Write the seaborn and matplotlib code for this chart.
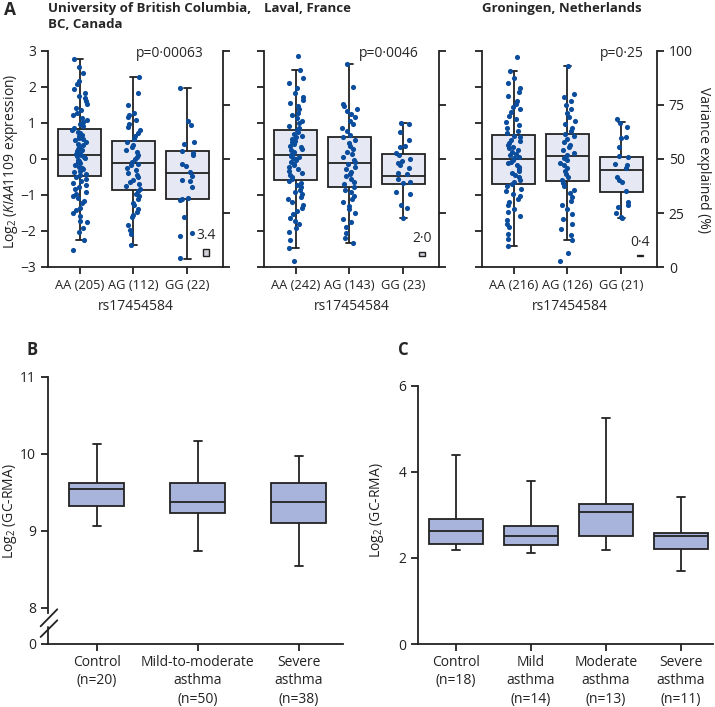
import numpy as np
import pandas as pd
import matplotlib
matplotlib.use("Agg")
import matplotlib.pyplot as plt
import seaborn as sns

np.random.seed(7)  # only for seaborn's strip jitter

# ---------------- Panel A: log2 KIAA1109 expression by rs17454584 ----------------
genotypes = ["AA", "AG", "GG"]
cohorts = ["University of British Columbia,\nBC, Canada", "Laval, France", "Groningen, Netherlands"]
n_ubc = [205, 112, 22]
n_laval = [242, 143, 23]
n_gron = [216, 126, 21]
p_values = ["p=0·00063", "p=0·0046", "p=0·25"]
var_explained = [3.4, 2.0, 0.4]
var_labels = ["3.4", "2·0", "0·4"]

# box stats: whisker low, Q1, median, Q3, whisker high
ubc_aa_box = [-2.24, -0.48, 0.12, 0.83, 2.79]
ubc_ag_box = [-2.40, -0.85, -0.11, 0.50, 2.29]
ubc_gg_box = [-2.77, -1.11, -0.38, 0.22, 1.96]
laval_aa_box = [-2.46, -0.57, 0.10, 0.81, 2.47]
laval_ag_box = [-2.33, -0.79, -0.11, 0.62, 2.63]
laval_gg_box = [-1.63, -0.69, -0.47, 0.13, 0.99]
gron_aa_box = [-2.43, -0.70, -0.01, 0.67, 2.44]
gron_ag_box = [-2.24, -0.62, 0.08, 0.70, 2.57]
gron_gg_box = [-1.65, -0.91, -0.31, 0.065, 1.02]

# individual samples (estimated from the strip of dots)
ubc_aa = [-2.52, -2.24, -2.02, -1.93, -1.76, -1.71, -1.58, -1.49, -1.41, -1.36, -1.22, -1.17,
          -1.08, -1.03, -0.96, -0.91, -0.84, -0.77, -0.71, -0.66, -0.61, -0.55, -0.50,
          -0.45, -0.41, -0.37, -0.33, -0.28, -0.25, -0.21, -0.17, -0.12, -0.09, -0.05, -0.02,
          0.03, 0.06, 0.09, 0.11, 0.14, 0.17, 0.22, 0.26, 0.29, 0.34, 0.38, 0.41, 0.47, 0.52,
          0.55, 0.59, 0.63, 0.67, 0.71, 0.76, 0.81, 0.86, 0.92, 0.98, 1.04, 1.09, 1.15, 1.22,
          1.27, 1.36, 1.43, 1.52, 1.61, 1.69, 1.74, 1.83, 1.95, 2.07, 2.18, 2.38, 2.55, 2.79]
ubc_ag = [-2.40, -2.08, -1.96, -1.83, -1.62, -1.55, -1.47, -1.38, -1.29, -1.21, -1.12, -1.04,
          -0.97, -0.90, -0.82, -0.76, -0.69, -0.63, -0.57, -0.50, -0.44, -0.38, -0.31, -0.25,
          -0.18, -0.13, -0.08, 0.00, 0.06, 0.12, 0.19, 0.26, 0.33, 0.40, 0.47, 0.55, 0.63,
          0.71, 0.80, 0.88, 0.97, 1.07, 1.18, 1.21, 1.29, 1.50, 1.84, 2.29]
ubc_gg = [1.97, 1.05, 0.95, 0.47, 0.43, 0.23, 0.16, 0.12, -0.13, -0.20, -0.35, -0.47, -0.57,
          -0.60, -0.78, -1.07, -1.10, -1.13, -1.62, -2.05, -2.13, -2.75]
laval_aa = [-2.84, -2.46, -2.25, -2.02, -1.93, -1.81, -1.72, -1.64, -1.53, -1.45, -1.37, -1.29,
            -1.20, -1.12, -1.05, -0.98, -0.91, -0.85, -0.79, -0.72, -0.66, -0.60, -0.55, -0.49,
            -0.44, -0.38, -0.33, -0.27, -0.22, -0.17, -0.13, -0.08, -0.04, 0.00, 0.03, 0.06,
            0.09, 0.12, 0.16, 0.20, 0.24, 0.28, 0.33, 0.37, 0.42, 0.46, 0.51, 0.55, 0.60, 0.65,
            0.70, 0.75, 0.80, 0.86, 0.92, 0.99, 1.06, 1.14, 1.22, 1.29, 1.38, 1.47, 1.56, 1.63,
            1.72, 1.84, 1.97, 2.10, 2.26, 2.47, 2.87]
laval_ag = [-2.33, -2.20, -2.05, -1.90, -1.74, -1.66, -1.50, -1.40, -1.31, -1.20, -1.10, -1.02,
            -0.93, -0.86, -0.78, -0.70, -0.63, -0.56, -0.48, -0.41, -0.35, -0.28, -0.21, -0.15,
            -0.09, -0.02, 0.05, 0.13, 0.20, 0.28, 0.36, 0.45, 0.53, 0.60, 0.68, 0.77, 0.86,
            0.96, 1.05, 1.16, 1.26, 1.33, 1.40, 1.47, 1.52, 2.00, 2.63]
laval_gg = [1.00, 0.96, 0.75, 0.52, 0.37, 0.33, 0.17, 0.10, 0.00, -0.05, -0.10, -0.17, -0.25,
            -0.38, -0.42, -0.55, -0.64, -0.68, -0.93, -0.98, -1.27, -1.35, -1.63]
gron_aa = [-2.43, -2.22, -2.08, -1.90, -1.81, -1.70, -1.58, -1.47, -1.38, -1.29, -1.20, -1.11,
           -1.04, -0.96, -0.88, -0.82, -0.76, -0.69, -0.63, -0.57, -0.51, -0.45, -0.39, -0.33,
           -0.27, -0.22, -0.17, -0.12, -0.07, -0.03, 0.02, 0.06, 0.11, 0.15, 0.20, 0.25, 0.30,
           0.34, 0.39, 0.44, 0.49, 0.54, 0.60, 0.65, 0.71, 0.78, 0.86, 0.95, 1.03, 1.11, 1.20,
           1.30, 1.38, 1.45, 1.53, 1.62, 1.74, 1.86, 1.98, 2.10, 2.25, 2.44, 2.82]
gron_ag = [-2.83, -2.60, -2.24, -2.12, -1.95, -1.80, -1.67, -1.52, -1.40, -1.29, -1.18, -1.06,
           -0.95, -0.85, -0.75, -0.66, -0.58, -0.50, -0.42, -0.34, -0.26, -0.18, -0.10, -0.03,
           0.04, 0.11, 0.18, 0.25, 0.33, 0.40, 0.48, 0.55, 0.63, 0.70, 0.78, 0.87, 0.97, 1.06,
           1.16, 1.27, 1.38, 1.50, 1.62, 1.72, 1.80, 2.57]
gron_gg = [1.12, 1.00, 0.90, 0.60, 0.57, 0.34, 0.08, 0.05, -0.15, -0.18, -0.25, -0.50, -0.58,
           -0.65, -0.90, -1.20, -1.27, -1.32, -1.50, -1.60, -1.65]

# ---------------- Panel B / C: log2 (GC-RMA), box stats only ----------------
b_groups = ["Control\n(n=20)", "Mild-to-moderate\nasthma\n(n=50)", "Severe\nasthma\n(n=38)"]
b_control = [9.065, 9.325, 9.54, 9.62, 10.13]
b_mild_moderate = [8.745, 9.23, 9.37, 9.62, 10.17]
b_severe = [8.55, 9.11, 9.37, 9.62, 9.98]

c_groups = ["Control\n(n=18)", "Mild\nasthma\n(n=14)", "Moderate\nasthma\n(n=13)", "Severe\nasthma\n(n=11)"]
c_control = [2.18, 2.32, 2.62, 2.905, 4.40]
c_mild = [2.12, 2.29, 2.50, 2.74, 3.79]
c_moderate = [2.18, 2.51, 3.06, 3.26, 5.25]
c_severe = [1.70, 2.21, 2.50, 2.585, 3.42]

# ---------------- style ----------------
sns.set_style("ticks")
plt.rcParams["font.family"] = ["Open Sans", "DejaVu Sans"]
plt.rcParams["mathtext.fontset"] = "custom"
plt.rcParams["mathtext.rm"] = "Open Sans"
plt.rcParams["mathtext.it"] = "Open Sans:italic"
plt.rcParams["font.size"] = 10

INK = "#222222"
DOT = "#0b4d9d"
A_FACE = "#e6e8f4"
BC_FACE = "#a9b4dc"
LW = 1.3

W, H = 715, 707
fig = plt.figure(figsize=(W / 100, H / 100), dpi=100)


def frac(left, top, right, bottom):
    return [left / W, 1 - bottom / H, (right - left) / W, (bottom - top) / H]


def long_df(groups, values):
    rows = [(g, v) for g, vals in zip(groups, values) for v in vals]
    return pd.DataFrame(rows, columns=["group", "value"])


def shorten_caps(ax, box_w, cap_w):
    for ln in ax.lines:
        x = np.asarray(ln.get_xdata(), float)
        y = np.asarray(ln.get_ydata(), float)
        if len(x) == 2 and y[0] == y[1] and np.isclose(x[1] - x[0], box_w / 2):
            c = x.mean()
            ln.set_xdata([c - cap_w / 2, c + cap_w / 2])


def style_ticks(ax):
    ax.tick_params(direction="out", length=5, width=LW, color=INK, labelcolor=INK)
    for s in ax.spines.values():
        s.set_linewidth(LW)
        s.set_color(INK)


def ylabel_at(x, y, text, rot=90):
    fig.text(x / W, 1 - y / H, text, rotation=rot, ha="center", va="center", color=INK)


# ---------------- Panel A ----------------
panel_a = [
    (n_ubc, [ubc_aa_box, ubc_ag_box, ubc_gg_box], [ubc_aa, ubc_ag, ubc_gg]),
    (n_laval, [laval_aa_box, laval_ag_box, laval_gg_box], [laval_aa, laval_ag, laval_gg]),
    (n_gron, [gron_aa_box, gron_ag_box, gron_gg_box], [gron_aa, gron_ag, gron_gg]),
]
a_lefts = [48, 264, 482]
p_x = [0.89, 0.886, 0.926]

for i, (counts, boxes, points) in enumerate(panel_a):
    ax = fig.add_axes(frac(a_lefts[i], 51, a_lefts[i] + 175, 267))
    sns.boxplot(data=long_df(genotypes, boxes), x="group", y="value", order=genotypes,
                whis=(0, 100), width=0.8, color=A_FACE, saturation=1, linecolor=INK,
                linewidth=LW, showfliers=False, ax=ax)
    shorten_caps(ax, 0.8, 0.13)
    sns.stripplot(data=long_df(genotypes, points), x="group", y="value", order=genotypes,
                  jitter=0.14, size=3.7, color=DOT, linewidth=0, ax=ax, zorder=3)
    ax.set_xlim(-0.59, 2.67)
    ax.set_ylim(-3, 3)
    ax.set_yticks(range(-3, 4))
    ax.set_xticks(range(3), [f"{g} ({n})" for g, n in zip(genotypes, counts)], fontsize=9.3)
    ax.set_xlabel("rs17454584", labelpad=5)
    ax.set_ylabel("")
    if i > 0:
        ax.set_yticklabels([])
    sns.despine(ax=ax)
    style_ticks(ax)
    ax.text(p_x[i], 0.99, p_values[i], transform=ax.transAxes, ha="right", va="center")

    ax2 = ax.twinx()
    ax2.set_ylim(0, 100)
    ax2.set_yticks([0, 25, 50, 75, 100])
    ax2.bar(2.35, var_explained[i], bottom=5, width=0.1, color="#cfd0d8",
            edgecolor=INK, linewidth=1.0)
    ax2.text(2.35, 5 + var_explained[i] + 2.5, var_labels[i], ha="center", va="bottom")
    for s in ["top", "left", "bottom"]:
        ax2.spines[s].set_visible(False)
    style_ticks(ax2)
    if i < 2:
        ax2.set_yticklabels([])

    fig.text(a_lefts[i] / W, 1 - 2 / H, cohorts[i], ha="left", va="top",
             fontsize=9.5, fontweight="bold", linespacing=1.3)

ylabel_at(11, 161, r"Log$_2$ ($\mathit{KIAA1109}$ expression)")
ylabel_at(704, 160, "Variance explained (%)", rot=270)
fig.text(4 / W, 1 - 1 / H, "A", ha="left", va="top", fontsize=12.5, fontweight="bold")

# ---------------- Panel B (broken axis) ----------------
axB = fig.add_axes(frac(48, 377, 343, 644))
sns.boxplot(data=long_df(b_groups, [b_control, b_mild_moderate, b_severe]), x="group",
            y="value", order=b_groups, whis=(0, 100), width=0.545, color=BC_FACE,
            saturation=1, linecolor=INK, linewidth=LW, showfliers=False, ax=axB)
shorten_caps(axB, 0.545, 0.08)
axB.set_xlim(-0.485, 2.44)
axB.set_ylim(7.532, 11)
axB.set_yticks([7.532, 8, 9, 10, 11], ["0", "8", "9", "10", "11"])
axB.set_xlabel("")
axB.set_ylabel("")
sns.despine(ax=axB)
style_ticks(axB)
axB.tick_params(axis="x", pad=3)
for t in axB.get_xticklabels():
    t.set_linespacing(1.3)
axB.spines["left"].set_bounds(7.93, 11)
ytr = axB.get_yaxis_transform()
axB.plot([0, 0], [7.532, 7.75], color=INK, lw=LW, transform=ytr, clip_on=False)
axB.plot([-0.025, 0.0315], [7.762, 7.983], color=INK, lw=LW, transform=ytr, clip_on=False)
axB.plot([-0.025, 0.0315], [7.623, 7.84], color=INK, lw=LW, transform=ytr, clip_on=False)
ylabel_at(10, 511, r"Log$_2$ (GC-RMA)")
fig.text(27 / W, 1 - 341 / H, "B", ha="left", va="top", fontsize=12, fontweight="bold")

# ---------------- Panel C ----------------
axC = fig.add_axes(frac(418, 385.7, 713, 644))
sns.boxplot(data=long_df(c_groups, [c_control, c_mild, c_moderate, c_severe]), x="group",
            y="value", order=c_groups, whis=(0, 100), width=0.716, color=BC_FACE,
            saturation=1, linecolor=INK, linewidth=LW, showfliers=False, ax=axC)
shorten_caps(axC, 0.716, 0.11)
axC.set_xlim(-0.507, 3.43)
axC.set_ylim(0, 6)
axC.set_yticks([0, 2, 4, 6])
axC.set_xlabel("")
axC.set_ylabel("")
sns.despine(ax=axC)
style_ticks(axC)
axC.tick_params(axis="x", pad=3)
for t in axC.get_xticklabels():
    t.set_linespacing(1.3)
ylabel_at(377, 510, r"Log$_2$ (GC-RMA)")
fig.text(398 / W, 1 - 341 / H, "C", ha="left", va="top", fontsize=12, fontweight="bold")

fig.savefig("out.png", dpi=100)
